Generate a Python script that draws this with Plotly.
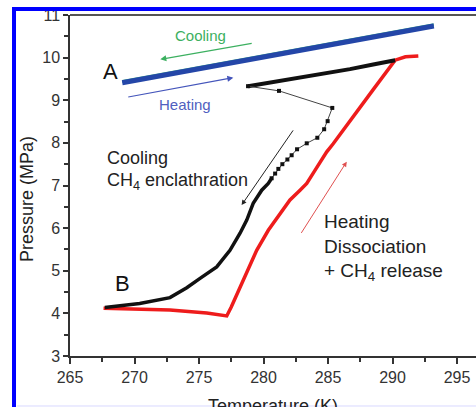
import plotly.graph_objects as go

# ---- data ----
heat_T = [269.05, 293.2]
heat_P = [9.41, 10.74]
cool_T = [293.2, 269.05]
cool_P = [10.77, 9.44]

black_upper_T = [278.8, 281.0, 282.8, 284.6, 286.7, 288.5, 290.2]
black_upper_P = [9.33, 9.44, 9.54, 9.63, 9.73, 9.84, 9.94]

black_thin_T = [278.8, 281.2, 285.33, 284.97, 284.7, 284.17, 283.35, 282.6, 282.18,
                281.85, 281.46, 281.15, 280.9, 280.63]
black_thin_P = [9.33, 9.22, 8.82, 8.51, 8.32, 8.12, 7.99, 7.85, 7.71,
                7.61, 7.50, 7.39, 7.28, 7.17]

black_dense_T = [280.63, 280.37, 279.86, 279.2, 278.7, 278.18, 277.4, 276.37,
                 275.08, 274.05, 272.75, 270.4, 267.7]
black_dense_P = [7.17, 7.05, 6.89, 6.58, 6.19, 5.88, 5.48, 5.09,
                 4.82, 4.60, 4.37, 4.23, 4.14]

red_T = [267.6, 270.0, 272.75, 275.6, 277.15, 277.5, 278.43, 279.47, 280.37, 281.28,
         282.05, 282.83, 283.35, 284.0, 284.9, 285.4, 287.0, 288.5, 290.2, 291.0, 292.0]
red_P = [4.12, 4.11, 4.08, 4.01, 3.94, 4.15, 4.78, 5.48, 5.95, 6.35,
         6.66, 6.89, 7.05, 7.36, 7.79, 7.98, 8.62, 9.25, 9.94, 10.02, 10.04]

x_ticks = [265, 270, 275, 280, 285, 290, 295]
y_ticks = [3, 4, 5, 6, 7, 8, 9, 10, 11]

FONT = "Liberation Sans, Arial, sans-serif"

fig = go.Figure()
fig.add_trace(go.Scatter(x=cool_T, y=cool_P, mode="lines",
                         line=dict(color="#3aa08a", width=3), hoverinfo="skip"))
fig.add_trace(go.Scatter(x=heat_T, y=heat_P, mode="lines",
                         line=dict(color="#2446a8", width=5), hoverinfo="skip"))
fig.add_trace(go.Scatter(x=red_T, y=red_P, mode="lines",
                         line=dict(color="#ee1c1c", width=3.5), hoverinfo="skip"))
fig.add_trace(go.Scatter(x=black_upper_T, y=black_upper_P, mode="lines",
                         line=dict(color="#111111", width=4), hoverinfo="skip"))
fig.add_trace(go.Scatter(x=black_thin_T, y=black_thin_P, mode="lines+markers",
                         line=dict(color="#444444", width=1),
                         marker=dict(symbol="square", size=4, color="#111111"),
                         hoverinfo="skip"))
fig.add_trace(go.Scatter(x=black_dense_T, y=black_dense_P, mode="lines",
                         line=dict(color="#111111", width=3.5), hoverinfo="skip"))

ann = []
def arrow(hx, hy, tx, ty, color, width=1.2):
    ann.append(dict(x=hx, y=hy, ax=tx, ay=ty, xref="x", yref="y", axref="x", ayref="y",
                    text=" ", showarrow=True, arrowhead=2, arrowsize=1,
                    arrowwidth=width, arrowcolor=color, standoff=0, startstandoff=0,
                    font=dict(size=1)))

arrow(272.0, 9.96, 279.2, 10.34, "#3cb060")
arrow(277.66, 9.53, 269.4, 9.07, "#4455bb")
arrow(278.3, 6.54, 282.4, 8.34, "#222222", 1)
arrow(286.45, 7.56, 282.83, 5.84, "#e05050", 1)

def label(x, y, text, size, color, anchor="center"):
    ann.append(dict(x=x, y=y, xref="x", yref="y", text=text, showarrow=False,
                    xanchor=anchor, yanchor="middle",
                    font=dict(family=FONT, size=size, color=color)))

label(275.1, 10.53, "Cooling", 15, "#3cb060")
label(273.9, 8.89, "Heating", 15, "#5060c0")
label(268.15, 9.67, "A", 22, "#111111")
label(269.1, 4.70, "B", 22, "#111111")
label(267.7, 7.64, "Cooling", 18, "#222222", "left")
label(267.7, 7.09, "CH<sub>4</sub> enclathration", 18, "#222222", "left")
label(284.5, 6.15, "Heating", 19, "#222222", "left")
label(284.5, 5.56, "Dissociation", 19, "#222222", "left")
label(284.5, 4.97, "+ CH<sub>4</sub> release", 19, "#222222", "left")

# axis titles
ann.append(dict(x=-0.106, y=0.46, xref="paper", yref="paper", text="Pressure (MPa)",
                textangle=-90, showarrow=False, xanchor="center", yanchor="middle",
                font=dict(family=FONT, size=18, color="#222222")))
ann.append(dict(x=0.5, y=-0.112, xref="paper", yref="paper", text="Temperature (K)",
                showarrow=False, xanchor="center", yanchor="top",
                font=dict(family=FONT, size=18, color="#222222")))

shapes = [
    # top axis border
    dict(type="line", xref="paper", yref="paper", x0=0, x1=1.05, y0=1, y1=1,
         line=dict(color="#555555", width=2)),
    # blue frame
    dict(type="rect", xref="paper", yref="paper", x0=-0.1379, x1=1.3, y0=-0.4, y1=1.0176,
         line=dict(color="#0000ff", width=4), fillcolor="rgba(0,0,0,0)", layer="above"),
    dict(type="line", xref="paper", yref="paper", x0=-0.13, x1=1.2, y0=-0.1466, y1=-0.1466,
         line=dict(color="#d8d8ff", width=1)),
]

fig.update_layout(
    width=476, height=407,
    margin=dict(l=70, r=0, t=15, b=51),
    paper_bgcolor="white", plot_bgcolor="white",
    showlegend=False,
    annotations=ann, shapes=shapes,
    font=dict(family=FONT, color="#333333"),
)
fig.update_xaxes(range=[265, 296.47], tickvals=x_ticks, ticks="outside", ticklen=6,
                 tickwidth=1.5, tickcolor="#333333", showline=True, linecolor="#333333",
                 linewidth=1.5, showgrid=False, zeroline=False,
                 tickfont=dict(family=FONT, size=16, color="#333333"),
                 minor=dict(tickvals=[267.5, 272.5, 277.5, 282.5, 287.5, 292.5],
                            ticks="outside", ticklen=4, tickcolor="#333333", tickwidth=1.5))
fig.update_yaxes(range=[3, 11], tickvals=y_ticks, ticks="outside", ticklen=5,
                 tickwidth=1.5, tickcolor="#333333", showline=True, linecolor="#333333",
                 linewidth=1.5, showgrid=False, zeroline=False,
                 tickfont=dict(family=FONT, size=16, color="#333333"),
                 minor=dict(tickvals=[3.5, 4.5, 5.5, 6.5, 7.5, 8.5, 9.5, 10.5],
                            ticks="outside", ticklen=4, tickcolor="#333333", tickwidth=1.5))

fig.write_html("out.html", config={"displayModeBar": False},
               post_script="document.body.style.margin='0';document.body.style.overflow='hidden';")
